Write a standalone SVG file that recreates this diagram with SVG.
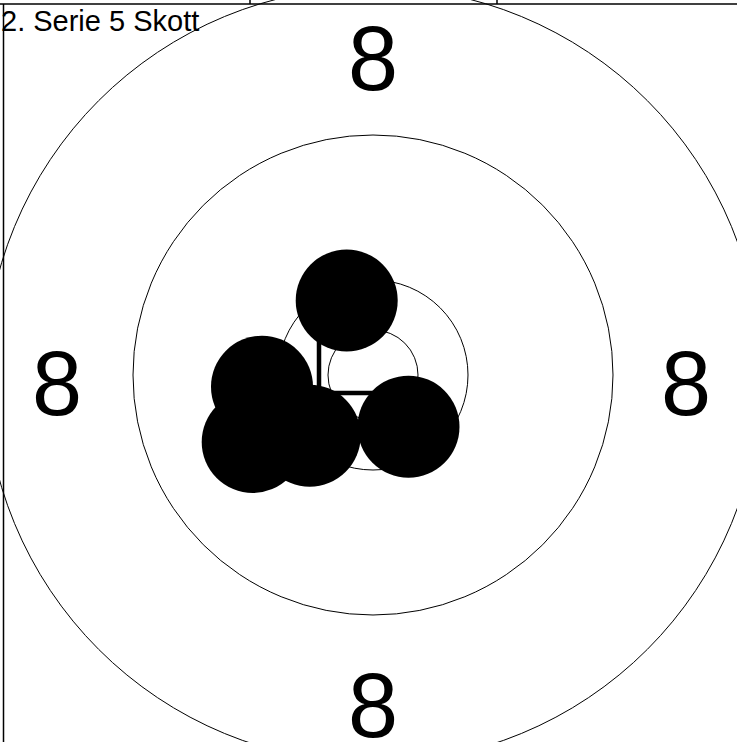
<svg xmlns="http://www.w3.org/2000/svg" width="737" height="742" viewBox="0 0 737 742">
<style>
.ring{fill:none;stroke:#000;stroke-width:1}
.frame{stroke:#000;stroke-width:1.5}
.lbl{font-family:"Liberation Sans",Arial,sans-serif;font-size:90px;fill:#000;text-anchor:middle}
.title{font-family:"Liberation Sans",Arial,sans-serif;font-size:29px;fill:#000}
.shot{fill:#000}
</style>
<rect width="737" height="742" fill="#fff"/>
<g id="target">
<circle class="ring" cx="373" cy="375" r="388"/>
<circle class="ring" cx="373" cy="375" r="240"/>
<circle class="ring" cx="373" cy="375" r="95"/>
<circle class="ring" cx="373" cy="375" r="45"/>
<text class="lbl" x="373" y="90">8</text>
<text class="lbl" x="57" y="415">8</text>
<text class="lbl" x="686" y="415">8</text>
<text class="lbl" x="373" y="737">8</text>
</g>
<g id="frame">
<line class="frame" x1="0" y1="4" x2="737" y2="4"/>
<line class="frame" x1="3.5" y1="4" x2="3.5" y2="742"/>
<line class="frame" x1="250" y1="0" x2="250" y2="4"/>
<line class="frame" x1="497" y1="0" x2="497" y2="4"/>
</g>
<text class="title" x="1" y="31">2. Serie 5 Skott</text>
<g id="connectors">
<polyline points="319,340 319,393 373,393" fill="none" stroke="#000" stroke-width="4.5"/>
</g>
<g id="shots">
<circle class="shot" cx="346.7" cy="300.5" r="51"/>
<circle class="shot" cx="262" cy="386.7" r="51"/>
<circle class="shot" cx="252.7" cy="442" r="51"/>
<circle class="shot" cx="309.7" cy="435.7" r="51"/>
<circle class="shot" cx="408.5" cy="426.7" r="51"/>
</g>
</svg>
